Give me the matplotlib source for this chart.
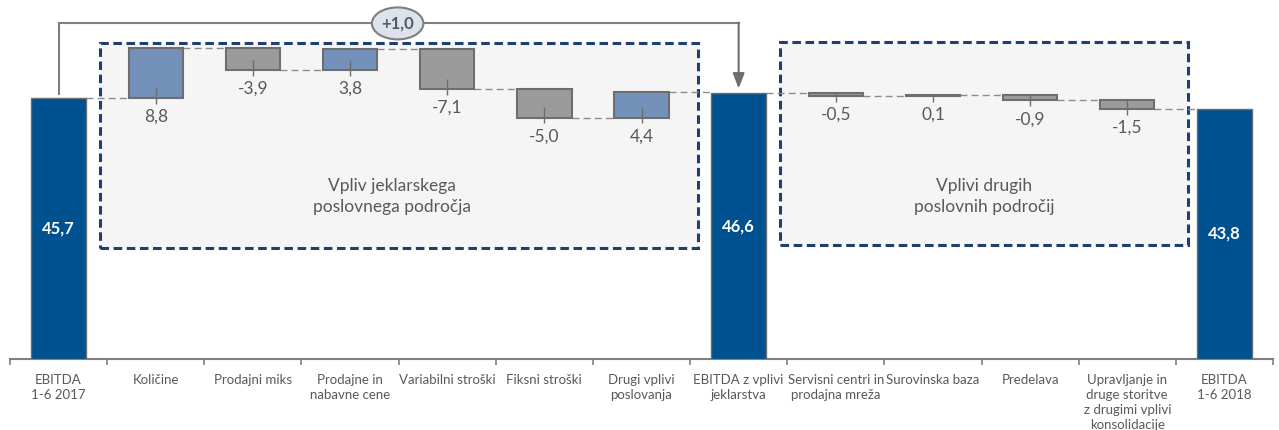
import matplotlib
matplotlib.use("Agg")
import matplotlib.pyplot as plt
from matplotlib.patches import Rectangle, Ellipse
import numpy as np

plt.rcParams['font.family'] = ['Lato', 'DejaVu Sans']

# data
categories = ['EBITDA\n1-6 2017', 'Količine', 'Prodajni miks', 'Prodajne in\nnabavne cene',
              'Variabilni stroški', 'Fiksni stroški', 'Drugi vplivi\nposlovanja',
              'EBITDA z vplivi\njeklarstva', 'Servisni centri in\nprodajna mreža',
              'Surovinska baza', 'Predelava',
              'Upravljanje in\ndruge storitve\nz drugimi vplivi\nkonsolidacije',
              'EBITDA\n1-6 2018']
values = [45.7, 8.8, -3.9, 3.8, -7.1, -5.0, 4.4, 46.6, -0.5, 0.1, -0.9, -1.5, 43.8]
is_total = [True, False, False, False, False, False, False, True, False, False, False, False, True]
bridge_label = '+1,0'
group_labels = ['Vpliv jeklarskega\nposlovnega področja', 'Vplivi drugih\nposlovnih področij']

c_total = '#00518F'
c_pos = '#7391B9'
c_neg = '#9B9B9B'
c_edge = '#6E6E6E'
c_text = '#595959'
c_box = '#1F3F6E'

fig = plt.figure(figsize=(12.79, 4.3), dpi=100)
ax = fig.add_axes([10 / 1279, 71 / 430, 1263 / 1279, 359 / 430])
ax.set_xlim(-0.5, 12.5)
ax.set_ylim(0, 62.9)

w = 0.56

# group boxes
ax.add_patch(Rectangle((0.43, 19.4), 6.15, 35.9, facecolor='#F5F5F5', edgecolor=c_box,
                       lw=2.2, ls=(0, (2.8, 1.5)), zorder=0))
ax.add_patch(Rectangle((7.43, 20.0), 4.2, 35.5, facecolor='#F5F5F5', edgecolor=c_box,
                       lw=2.2, ls=(0, (2.8, 1.5)), zorder=0))
ax.text(3.43, 28.5, group_labels[0], ha='center', va='center', fontsize=12.5,
        color=c_text, linespacing=1.35)
ax.text(9.53, 28.5, group_labels[1], ha='center', va='center', fontsize=12.5,
        color=c_text, linespacing=1.35)

level = 0
levels = []
for i, v in enumerate(values):
    if is_total[i]:
        ax.bar(i, v, width=w, bottom=0, color=c_total, edgecolor=c_edge, lw=1, zorder=3)
        ax.text(i, v / 2, f'{v:.1f}'.replace('.', ','), ha='center', va='center',
                color='white', fontsize=12, fontweight='bold', zorder=4)
        level = v
    else:
        start = level
        level = level + v
        lo, hi = min(start, level), max(start, level)
        ax.bar(i, hi - lo, width=w, bottom=lo, color=c_pos if v > 0 else c_neg,
               edgecolor=c_edge, lw=1.5, zorder=3)
        ax.vlines(i, hi if hi - lo < 1.8 else lo + 1.8, lo - 1.0,
                  color=c_edge, lw=1, zorder=4)
        ax.text(i, lo - 1.9, f'{v:.1f}'.replace('.', ','), ha='center', va='top',
                color=c_text, fontsize=12.5)
    levels.append(level)

# connectors
for i in range(len(values) - 1):
    ax.hlines(levels[i], i + w / 2, i + 1 - w / 2, color='#8C8C8C', lw=1,
              ls=(0, (5, 3)), zorder=2)

# bridge arrow between the two EBITDA totals
top = 58.8
ax.plot([0, 0, 7], [values[0] + 0.8, top, top], color='#7F7F7F', lw=1.5, zorder=5,
        solid_joinstyle='miter')
ax.annotate('', xy=(7, values[7] + 0.8), xytext=(7, top + 0.13),
            arrowprops=dict(arrowstyle='-|>,head_width=0.35,head_length=0.9',
                            color='#6E6E6E', lw=1.5, shrinkA=0, shrinkB=0), zorder=5)
ax.add_patch(Ellipse((3.49, top), 0.53, 5.6, facecolor='#DCE3EE', edgecolor='#7F7F7F',
                     lw=1.5, zorder=6))
ax.text(3.49, top, bridge_label, ha='center', va='center', fontsize=12,
        fontweight='bold', color=c_text, zorder=7)

# axis styling
for s in ['top', 'right', 'left']:
    ax.spines[s].set_visible(False)
ax.spines['bottom'].set_color('#808080')
ax.spines['bottom'].set_linewidth(1.5)
ax.set_yticks([])
ax.set_xticks(range(len(categories)))
ax.set_xticklabels(categories, fontsize=9.5, color=c_text, linespacing=1.3)
ax.set_xticks(np.arange(-0.5, 12.6, 1), minor=True)
ax.tick_params(axis='x', which='major', length=0, pad=11)
ax.tick_params(axis='x', which='minor', length=4, width=1.2, color='#808080')

fig.savefig('out.png', dpi=100)
